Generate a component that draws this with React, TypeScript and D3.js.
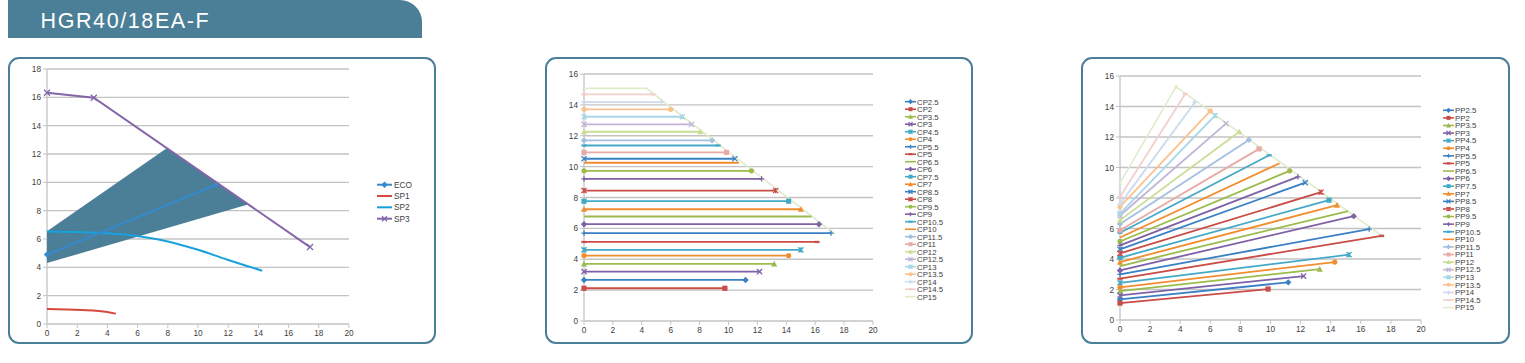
import React from "react";
import * as d3 from "d3";

// ---------- Panel 1 data ----------
const ecoX = [0, 11.2];
const ecoY = [4.9, 9.83];
const sp1X = [0, 2.25, 4.0, 4.56];
const sp1Y = [1.06, 0.99, 0.85, 0.73];
const sp2X = [0, 4.0, 6.2, 8.0, 10.0, 11.95, 14.25];
const sp2Y = [6.53, 6.41, 6.18, 5.83, 5.24, 4.54, 3.76];
const sp3X = [0, 3.1, 17.42];
const sp3Y = [16.32, 15.97, 5.43];
const areaX = [0, 7.95, 13.3, 0];
const areaY = [6.55, 12.42, 8.43, 4.3];
const p1Names = ["ECO", "SP1", "SP2", "SP3"];

// ---------- Panel 2 data (CP) ----------
const cpNames = ["CP2.5", "CP2", "CP3.5", "CP3", "CP4.5", "CP4", "CP5.5", "CP5", "CP6.5", "CP6", "CP7.5", "CP7", "CP8.5", "CP8", "CP9.5", "CP9", "CP10.5", "CP10", "CP11.5", "CP11", "CP12", "CP12.5", "CP13", "CP13.5", "CP14", "CP14.5", "CP15"];
const cpLevel = [2.66, 2.12, 3.7, 3.2, 4.61, 4.24, 5.69, 5.12, 6.77, 6.27, 7.76, 7.24, 10.51, 8.45, 9.73, 9.21, 11.37, 10.25, 11.7, 10.92, 12.26, 12.74, 13.23, 13.71, 14.18, 14.68];
const cpEnd = [11.18, 9.75, 13.16, 12.15, 15.01, 14.16, 17.09, 16.12, 15.75, 16.26, 14.16, 15.01, 10.44, 13.26, 11.59, 12.29, 9.28, 10.72, 8.87, 9.86, 8.06, 7.44, 6.81, 6.0, 5.36, 4.78];
const cp15X = [0, 4.32, 17.37];
const cp15Y = [15.07, 15.07, 5.62];

// ---------- Panel 3 data (PP) ----------
const ppNames = ["PP2.5", "PP2", "PP3.5", "PP3", "PP4.5", "PP4", "PP5.5", "PP5", "PP6.5", "PP6", "PP7.5", "PP7", "PP8.5", "PP8", "PP9.5", "PP9", "PP10.5", "PP10", "PP11.5", "PP11", "PP12", "PP12.5", "PP13", "PP13.5", "PP14", "PP14.5", "PP15"];
const ppStart = [1.35, 1.11, 1.9, 1.62, 2.44, 2.14, 2.99, 2.71, 3.54, 3.25, 4.08, 3.8, 4.63, 4.37, 5.15, 4.89, 5.72, 5.41, 6.29, 5.89, 6.55, 6.85, 6.98, 7.42, 7.6, 8.08];
const ppEndX = [11.18, 9.84, 13.27, 12.2, 15.22, 14.27, 16.56, 17.38, 15.16, 15.53, 13.89, 14.42, 12.31, 13.36, 11.27, 11.82, 9.91, 10.6, 8.56, 9.24, 7.93, 7.04, 6.31, 6.0, 4.98, 4.33];
const ppEndY = [2.47, 2.03, 3.34, 2.88, 4.28, 3.8, 5.96, 5.52, 7.14, 6.81, 7.86, 7.53, 9.01, 8.38, 9.78, 9.39, 10.8, 10.28, 11.81, 11.22, 12.35, 12.88, 13.4, 13.71, 14.28, 14.82];
const pp15X = [0, 3.73, 17.4];
const pp15Y = [8.99, 15.3, 5.52];

const xTicks = [0, 2, 4, 6, 8, 10, 12, 14, 16, 18, 20];
const yTicks18 = [0, 2, 4, 6, 8, 10, 12, 14, 16, 18];
const yTicks16 = [0, 2, 4, 6, 8, 10, 12, 14, 16];

const title = "HGR40/18EA-F";

// ---------- styles ----------
const TEAL = "#4b7f97";
const GRID = "#c3c3c3";
const FONT = "'Liberation Sans', Arial, sans-serif";
const seriesColors = [
  "#3a80c4", "#c94c47", "#9bbb4c", "#7e61a6", "#44a8c7", "#f28d2e",
  "#3a80c4", "#c94c47", "#9bbb4c", "#7e61a6", "#44a8c7", "#f28d2e",
  "#3a80c4", "#c94c47", "#9bbb4c", "#7e61a6", "#44a8c7", "#f28d2e",
  "#a3bfe0", "#e8aaa6", "#cadd94", "#c2b4d8", "#a8d6e6", "#f9c28f",
  "#cbdaee", "#f1d0ce", "#e1ebcb",
];
const markerCycle = ["diamond", "square", "triangle", "x", "star", "circle", "plus", "dash", "none"];
const p1Colors = ["#3589cf", "#d9483c", "#17a1dd", "#8466a8"];

function Marker({ type, x, y, color, s = 2.6 }: { type: string; x: number; y: number; color: string; s?: number }) {
  const sw = 1.3;
  switch (type) {
    case "diamond":
      return <path d={`M${x},${y - s - 0.6}L${x + s + 0.6},${y}L${x},${y + s + 0.6}L${x - s - 0.6},${y}Z`} fill={color} />;
    case "square":
      return <rect x={x - s} y={y - s} width={2 * s} height={2 * s} fill={color} />;
    case "triangle":
      return <path d={`M${x},${y - s - 0.5}L${x + s + 0.5},${y + s}L${x - s - 0.5},${y + s}Z`} fill={color} />;
    case "x":
      return <path d={`M${x - s},${y - s}L${x + s},${y + s}M${x - s},${y + s}L${x + s},${y - s}`} stroke={color} strokeWidth={sw} />;
    case "star":
      return <path d={`M${x - s},${y - s}L${x + s},${y + s}M${x - s},${y + s}L${x + s},${y - s}M${x},${y - s}L${x},${y + s}`} stroke={color} strokeWidth={sw} />;
    case "circle":
      return <circle cx={x} cy={y} r={s} fill={color} />;
    case "plus":
      return <path d={`M${x - s},${y}L${x + s},${y}M${x},${y - s}L${x},${y + s}`} stroke={color} strokeWidth={sw} />;
    case "dash":
      return <path d={`M${x - s},${y}L${x + s},${y}`} stroke={color} strokeWidth={2.2} />;
    default:
      return null;
  }
}

type Frame = { x0: number; x1: number; y0: number; y1: number; ymax: number; yTicks: number[] };

function Axes({ f }: { f: Frame }) {
  const x = d3.scaleLinear().domain([0, 20]).range([f.x0, f.x1]);
  const y = d3.scaleLinear().domain([0, f.ymax]).range([f.y0, f.y1]);
  return (
    <g fontFamily={FONT} fontSize={8.3} fill="#404040">
      {f.yTicks.map((t) => (
        <g key={"y" + t}>
          {t > 0 && <line x1={f.x0} x2={f.x1} y1={y(t)} y2={y(t)} stroke={GRID} strokeWidth={1.3} />}
          <line x1={f.x0 - 4} x2={f.x0} y1={y(t)} y2={y(t)} stroke={GRID} strokeWidth={1} />
          <text x={f.x0 - 6} y={y(t) + 3} textAnchor="end">{t}</text>
        </g>
      ))}
      <line x1={f.x0} x2={f.x0} y1={f.y0} y2={f.y1} stroke={GRID} strokeWidth={1.3} />
      <line x1={f.x0} x2={f.x1} y1={f.y0} y2={f.y0} stroke={GRID} strokeWidth={1.3} />
      {xTicks.map((t) => (
        <g key={"x" + t}>
          <line x1={x(t)} x2={x(t)} y1={f.y0} y2={f.y0 + 4} stroke={GRID} strokeWidth={1} />
          <text x={x(t)} y={f.y0 + 12} textAnchor="middle">{t}</text>
        </g>
      ))}
    </g>
  );
}

function Panel1() {
  const f: Frame = { x0: 47, x1: 349, y0: 324, y1: 69, ymax: 18, yTicks: yTicks18 };
  const x = d3.scaleLinear().domain([0, 20]).range([f.x0, f.x1]);
  const y = d3.scaleLinear().domain([0, f.ymax]).range([f.y0, f.y1]);
  const mk = (xs: number[], ys: number[], curve: d3.CurveFactory = d3.curveLinear) =>
    d3.line<number>().x((d) => x(d)).y((_, i) => y(ys[i])).curve(curve)(xs) || "";
  const area = d3.line<number>().x((d) => x(d)).y((_, i) => y(areaY[i]))(areaX) + "Z";
  const legY = [184.7, 196, 207.3, 218.7];
  return (
    <g>
      <rect x={9} y={58} width={426} height={285} rx={10} fill="#fff" stroke={TEAL} strokeWidth={2} />
      <Axes f={f} />
      <path d={area} fill={TEAL} />
      <path d={mk(sp1X, sp1Y, d3.curveMonotoneX)} fill="none" stroke={p1Colors[1]} strokeWidth={2} />
      <path d={mk(sp2X, sp2Y, d3.curveMonotoneX)} fill="none" stroke={p1Colors[2]} strokeWidth={2} />
      <path d={mk(ecoX, ecoY)} fill="none" stroke={p1Colors[0]} strokeWidth={2} />
      {ecoX.map((d, i) => <Marker key={"e" + i} type="diamond" x={x(d)} y={y(ecoY[i])} color={p1Colors[0]} />)}
      <path d={mk(sp3X, sp3Y)} fill="none" stroke={p1Colors[3]} strokeWidth={2} />
      {sp3X.map((d, i) => <Marker key={"s" + i} type="x" x={x(d)} y={y(sp3Y[i])} color={p1Colors[3]} s={3} />)}
      {p1Names.map((n, i) => (
        <g key={n}>
          <line x1={377} x2={392} y1={legY[i]} y2={legY[i]} stroke={p1Colors[i]} strokeWidth={2} />
          {i === 0 && <Marker type="diamond" x={384.5} y={legY[i]} color={p1Colors[0]} />}
          {i === 3 && <Marker type="x" x={384.5} y={legY[i]} color={p1Colors[3]} s={2.5} />}
          <text x={394} y={legY[i] + 3} fontFamily={FONT} fontSize={8.3} fill="#404040">{n}</text>
        </g>
      ))}
    </g>
  );
}

function Legend({ names, lx, ly0, dy, tx }: { names: string[]; lx: number; ly0: number; dy: number; tx: number }) {
  return (
    <g>
      {names.map((n, i) => {
        const yy = ly0 + i * dy;
        return (
          <g key={n}>
            <line x1={lx} x2={lx + 11} y1={yy} y2={yy} stroke={seriesColors[i]} strokeWidth={1.6} />
            <Marker type={markerCycle[i % 9]} x={lx + 5.5} y={yy} color={seriesColors[i]} s={2} />
            <text x={tx} y={yy + 2.8} fontFamily={FONT} fontSize={7.8} fill="#404040">{n}</text>
          </g>
        );
      })}
    </g>
  );
}

function Panel2() {
  const f: Frame = { x0: 584, x1: 873, y0: 321, y1: 74, ymax: 16, yTicks: yTicks16 };
  const x = d3.scaleLinear().domain([0, 20]).range([f.x0, f.x1]);
  const y = d3.scaleLinear().domain([0, f.ymax]).range([f.y0, f.y1]);
  const env = d3.line<number>().x((d) => x(d)).y((_, i) => y(cp15Y[i]))(cp15X) || "";
  return (
    <g>
      <rect x={546} y={58} width={426} height={285} rx={10} fill="#fff" stroke={TEAL} strokeWidth={2} />
      <Axes f={f} />
      <path d={env} fill="none" stroke={seriesColors[26]} strokeWidth={1.6} />
      {cpLevel.map((v, i) => {
        const c = seriesColors[i];
        const m = markerCycle[i % 9];
        const ln = d3.line<number>().x((d) => x(d)).y(() => y(v))([0, cpEnd[i]]) || "";
        return (
          <g key={cpNames[i]}>
            <path d={ln} stroke={c} strokeWidth={1.8} fill="none" />
            <Marker type={m} x={x(0)} y={y(v)} color={c} />
            <Marker type={m} x={x(cpEnd[i])} y={y(v)} color={c} />
          </g>
        );
      })}
      <Legend names={cpNames} lx={905} ly0={101.7} dy={7.5} tx={917} />
    </g>
  );
}

function Panel3() {
  const f: Frame = { x0: 1120, x1: 1421, y0: 320, y1: 76, ymax: 16, yTicks: yTicks16 };
  const x = d3.scaleLinear().domain([0, 20]).range([f.x0, f.x1]);
  const y = d3.scaleLinear().domain([0, f.ymax]).range([f.y0, f.y1]);
  const env = d3.line<number>().x((d) => x(d)).y((_, i) => y(pp15Y[i]))(pp15X) || "";
  return (
    <g>
      <rect x={1082} y={58} width={427} height={285} rx={10} fill="#fff" stroke={TEAL} strokeWidth={2} />
      <Axes f={f} />
      <path d={env} fill="none" stroke={seriesColors[26]} strokeWidth={1.6} />
      {pp15X.map((d, i) => <Marker key={"pe" + i} type="triangle" x={x(d)} y={y(pp15Y[i])} color={seriesColors[26]} s={2} />)}
      {ppStart.map((v, i) => {
        const c = seriesColors[i];
        const m = markerCycle[i % 9];
        const xs = [0, ppEndX[i]];
        const ys = [v, ppEndY[i]];
        const ln = d3.line<number>().x((d) => x(d)).y((_, j) => y(ys[j]))(xs) || "";
        return (
          <g key={ppNames[i]}>
            <path d={ln} stroke={c} strokeWidth={1.8} fill="none" />
            <Marker type={m} x={x(xs[0])} y={y(ys[0])} color={c} />
            <Marker type={m} x={x(xs[1])} y={y(ys[1])} color={c} />
          </g>
        );
      })}
      <Legend names={ppNames} lx={1443} ly0={110.3} dy={7.59} tx={1455} />
    </g>
  );
}

export default function App() {
  return (
    <svg width={1525} height={363} style={{ position: "absolute", left: 0, top: 0, background: "#fff" }}>
      <rect x={0} y={0} width={1525} height={363} fill="#fff" />
      <path d="M8,0H400A22,22 0 0 1 422,22V38H8Z" fill={TEAL} />
      <text x={40.5} y={27.5} fontFamily={FONT} fontSize={21.5} fill="#fff" letterSpacing={1.6}>{title}</text>
      <Panel1 />
      <Panel2 />
      <Panel3 />
    </svg>
  );
}
